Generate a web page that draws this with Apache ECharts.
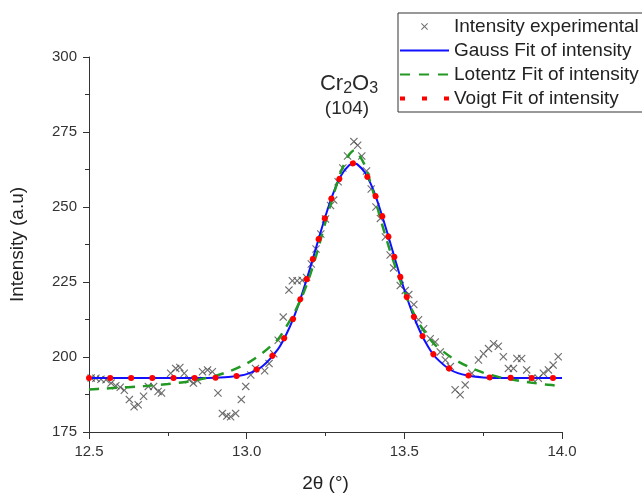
<!DOCTYPE html>
<html>
<head>
<meta charset="utf-8">
<script src="https://cdn.jsdelivr.net/npm/echarts@6/dist/echarts.min.js"></script>
<style>html,body{margin:0;padding:0;background:#fff;}#c{width:642px;height:498px;}</style>
</head>
<body>
<div id="c"></div>
<script>
// Experimental data (2θ, intensity)
var expX = [12.507,12.522,12.538,12.554,12.570,12.585,12.599,12.612,12.628,12.643,12.656,12.673,12.688,12.705,12.719,12.730,12.759,12.775,12.788,12.802,12.817,12.831,12.844,12.860,12.876,12.891,12.909,12.923,12.937,12.949,12.965,12.983,12.997,13.013,13.028,13.057,13.071,13.086,13.100,13.116,13.134,13.145,13.160,13.176,13.190,13.205,13.220,13.235,13.250,13.266,13.276,13.290,13.305,13.320,13.340,13.352,13.365,13.380,13.395,13.410,13.424,13.440,13.455,13.466,13.487,13.503,13.514,13.530,13.545,13.561,13.582,13.598,13.614,13.630,13.646,13.661,13.677,13.693,13.714,13.735,13.751,13.767,13.783,13.798,13.814,13.830,13.846,13.857,13.872,13.888,13.904,13.925,13.941,13.957,13.972,13.988];
var expY = [193.0,192.9,192.6,192.4,191.3,190.4,189.9,188.9,185.8,183.4,184.1,186.9,190.2,190.2,188.5,188.0,194.6,196.2,196.5,194.6,192.4,191.3,192.2,195.1,195.7,195.1,188.0,181.2,180.3,180.1,181.2,185.8,190.2,194.0,196.2,195.4,197.8,201.1,205.6,213.3,222.3,225.4,225.4,225.6,226.5,231.0,236.0,241.0,246.0,250.5,252.3,258.4,263.0,267.0,271.8,270.6,267.0,262.0,256.0,250.0,246.2,240.0,234.0,229.7,223.8,222.2,220.8,217.5,212.4,209.4,206.1,205.0,201.7,199.0,196.8,189.1,187.4,190.7,194.6,199.0,201.1,202.8,204.4,203.6,200.1,196.2,196.2,199.5,199.5,195.7,192.9,192.9,194.6,195.7,197.3,200.1];

// Gauss fit
var gaussX = [12.5,12.6,12.7,12.8,12.85,12.9,12.95,13.0,13.05,13.1,13.125,13.15,13.175,13.2,13.225,13.25,13.275,13.3,13.325,13.34,13.35,13.375,13.4,13.425,13.45,13.475,13.5,13.525,13.55,13.575,13.6,13.65,13.7,13.75,13.8,13.9,14.0];
var gaussY = [193.0,193.0,193.0,193.0,193.0,193.1,193.4,194.3,196.9,202.7,207.4,213.4,220.8,229.2,238.2,247.0,254.7,260.6,263.9,264.5,264.3,261.5,256.1,248.6,240.0,231.0,222.4,214.8,208.5,203.5,199.8,195.5,193.8,193.2,193.0,193.0,193.0];

// Lorentz fit
var lorentzX = [12.5,12.55,12.6,12.65,12.7,12.75,12.8,12.85,12.9,12.95,13.0,13.05,13.1,13.125,13.15,13.175,13.2,13.225,13.25,13.275,13.3,13.325,13.34,13.35,13.375,13.4,13.425,13.45,13.475,13.5,13.525,13.55,13.575,13.6,13.65,13.7,13.75,13.8,13.85,13.9,13.95,14.0];
var lorentzY = [189.2,189.5,189.8,190.1,190.5,191.0,191.6,192.5,193.7,195.4,197.8,201.3,206.0,210.0,214.5,220.0,227.0,235.5,245.0,254.0,262.0,267.5,268.8,268.4,263.8,255.5,245.8,237.0,229.0,221.8,215.6,210.6,206.8,203.8,199.8,196.9,194.8,193.3,192.3,191.5,190.8,190.3];

// Voigt fit
var voigtX = [12.5,12.6,12.7,12.8,12.85,12.9,12.95,13.0,13.05,13.1,13.125,13.15,13.175,13.2,13.225,13.25,13.275,13.3,13.325,13.34,13.35,13.375,13.4,13.425,13.45,13.475,13.5,13.525,13.55,13.575,13.6,13.65,13.7,13.75,13.8,13.9,14.0];
var voigtY = [193.0,193.0,193.0,193.0,193.0,193.1,193.4,194.4,197.0,202.8,207.5,213.4,220.8,229.2,238.2,247.0,254.7,260.6,263.9,264.6,264.4,261.5,256.1,248.6,240.0,231.0,222.4,214.8,208.6,203.6,199.9,195.6,193.9,193.3,193.1,193.0,193.0];

var seriesNames = ['Intensity experimental','Gauss Fit of intensity','Lotentz Fit of intensity','Voigt Fit of intensity'];
var xTicks = {min: 12.5, max: 14.0, step: 0.5};
var yTicks = {min: 175, max: 300, step: 25};

function zip(a, b) { return a.map(function (v, i) { return [v, b[i]]; }); }

var FONT = 'Liberation Sans, Arial, sans-serif';
var NOSYM = {color: 'rgba(0,0,0,0)', borderWidth: 0, opacity: 0};
var chart = echarts.init(document.getElementById('c'), null, {renderer: 'canvas'});
chart.setOption({
  animation: false,
  backgroundColor: '#ffffff',
  grid: {left: 88, right: 80, top: 57, bottom: 62},
  legend: {
    orient: 'vertical',
    left: 398, top: 13,
    itemWidth: 49, itemHeight: 7, itemGap: 5,
    padding: [4, 6, 4, 0],
    borderColor: '#333', borderWidth: 1,
    textStyle: {fontFamily: FONT, fontSize: 19, color: '#222'},
    data: [
      {name: seriesNames[0]},
      {name: seriesNames[1], itemStyle: NOSYM, lineStyle: {width: 2, color: '#1010ff', type: 'solid'}},
      {name: seriesNames[2], itemStyle: NOSYM, lineStyle: {width: 2, color: '#229922', type: [10, 9]}},
      {name: seriesNames[3], itemStyle: NOSYM, lineStyle: {width: 4, color: '#ff0000', type: [5, 17], cap: 'butt'}}
    ]
  },
  xAxis: {
    type: 'value', min: xTicks.min, max: xTicks.max, interval: xTicks.step,
    name: '2θ (°)', nameLocation: 'middle', nameGap: 42,
    nameTextStyle: {fontFamily: FONT, fontSize: 19, color: '#222'},
    axisLine: {show: true, onZero: false, lineStyle: {color: '#333', width: 1}},
    axisTick: {show: true, inside: false, length: 7, lineStyle: {color: '#333'}},
    minorTick: {show: true, splitNumber: 2, length: 4, lineStyle: {color: '#333'}},
    splitLine: {show: false},
    axisLabel: {fontFamily: FONT, fontSize: 15, color: '#333', margin: 12,
      formatter: function (v) { return v.toFixed(1); }}
  },
  yAxis: {
    type: 'value', min: yTicks.min, max: yTicks.max, interval: yTicks.step,
    name: 'Intensity (a.u)', nameLocation: 'middle', nameGap: 62, nameRotate: 90,
    nameTextStyle: {fontFamily: FONT, fontSize: 19, color: '#222'},
    axisLine: {show: true, onZero: false, lineStyle: {color: '#333', width: 1}},
    axisTick: {show: true, inside: false, length: 6, lineStyle: {color: '#333'}},
    minorTick: {show: true, splitNumber: 2, length: 4, lineStyle: {color: '#333'}},
    splitLine: {show: false},
    axisLabel: {fontFamily: FONT, fontSize: 15, color: '#333', margin: 12}
  },
  graphic: [{
    type: 'text', x: 349, y: 82, z: 100,
    style: {
      text: '{a|Cr}{b|2}{a|O}{b|3}',
      align: 'center', verticalAlign: 'middle',
      rich: {
        a: {fontFamily: FONT, fontSize: 22, fill: '#2a2a2a', lineHeight: 26, verticalAlign: 'bottom'},
        b: {fontFamily: FONT, fontSize: 16, fill: '#2a2a2a', lineHeight: 18, verticalAlign: 'bottom', padding: [0, 0, -2, 0]}
      }
    }
  }, {
    type: 'text', x: 347, y: 109, z: 100,
    style: {text: '(104)', font: '19px ' + FONT, fill: '#2a2a2a', align: 'center', verticalAlign: 'middle'}
  }],
  series: [{
    name: seriesNames[0], type: 'scatter',
    data: zip(expX, expY),
    symbol: 'path://M0,1L1,0L5,4L9,0L10,1L6,5L10,9L9,10L5,6L1,10L0,9L4,5Z',
    symbolSize: 8, symbolKeepAspect: true,
    itemStyle: {color: '#4a4a4a'}
  }, {
    name: seriesNames[1], type: 'line',
    data: zip(gaussX, gaussY), smooth: 0.25, symbol: 'circle', showSymbol: false,
    lineStyle: {color: '#1010ff', width: 2, type: 'solid'},
    itemStyle: NOSYM
  }, {
    name: seriesNames[2], type: 'line',
    data: zip(lorentzX, lorentzY), smooth: 0.25, symbol: 'circle', showSymbol: false,
    lineStyle: {color: '#229922', width: 2.5, type: [10, 8]},
    itemStyle: NOSYM
  }, {
    name: seriesNames[3], type: 'line',
    data: zip(voigtX, voigtY), smooth: 0.25, symbol: 'circle', showSymbol: false,
    lineStyle: {color: '#ff0000', width: 6, type: [0.1, 21], cap: 'round'},
    itemStyle: NOSYM
  }]
});
</script>
</body>
</html>
